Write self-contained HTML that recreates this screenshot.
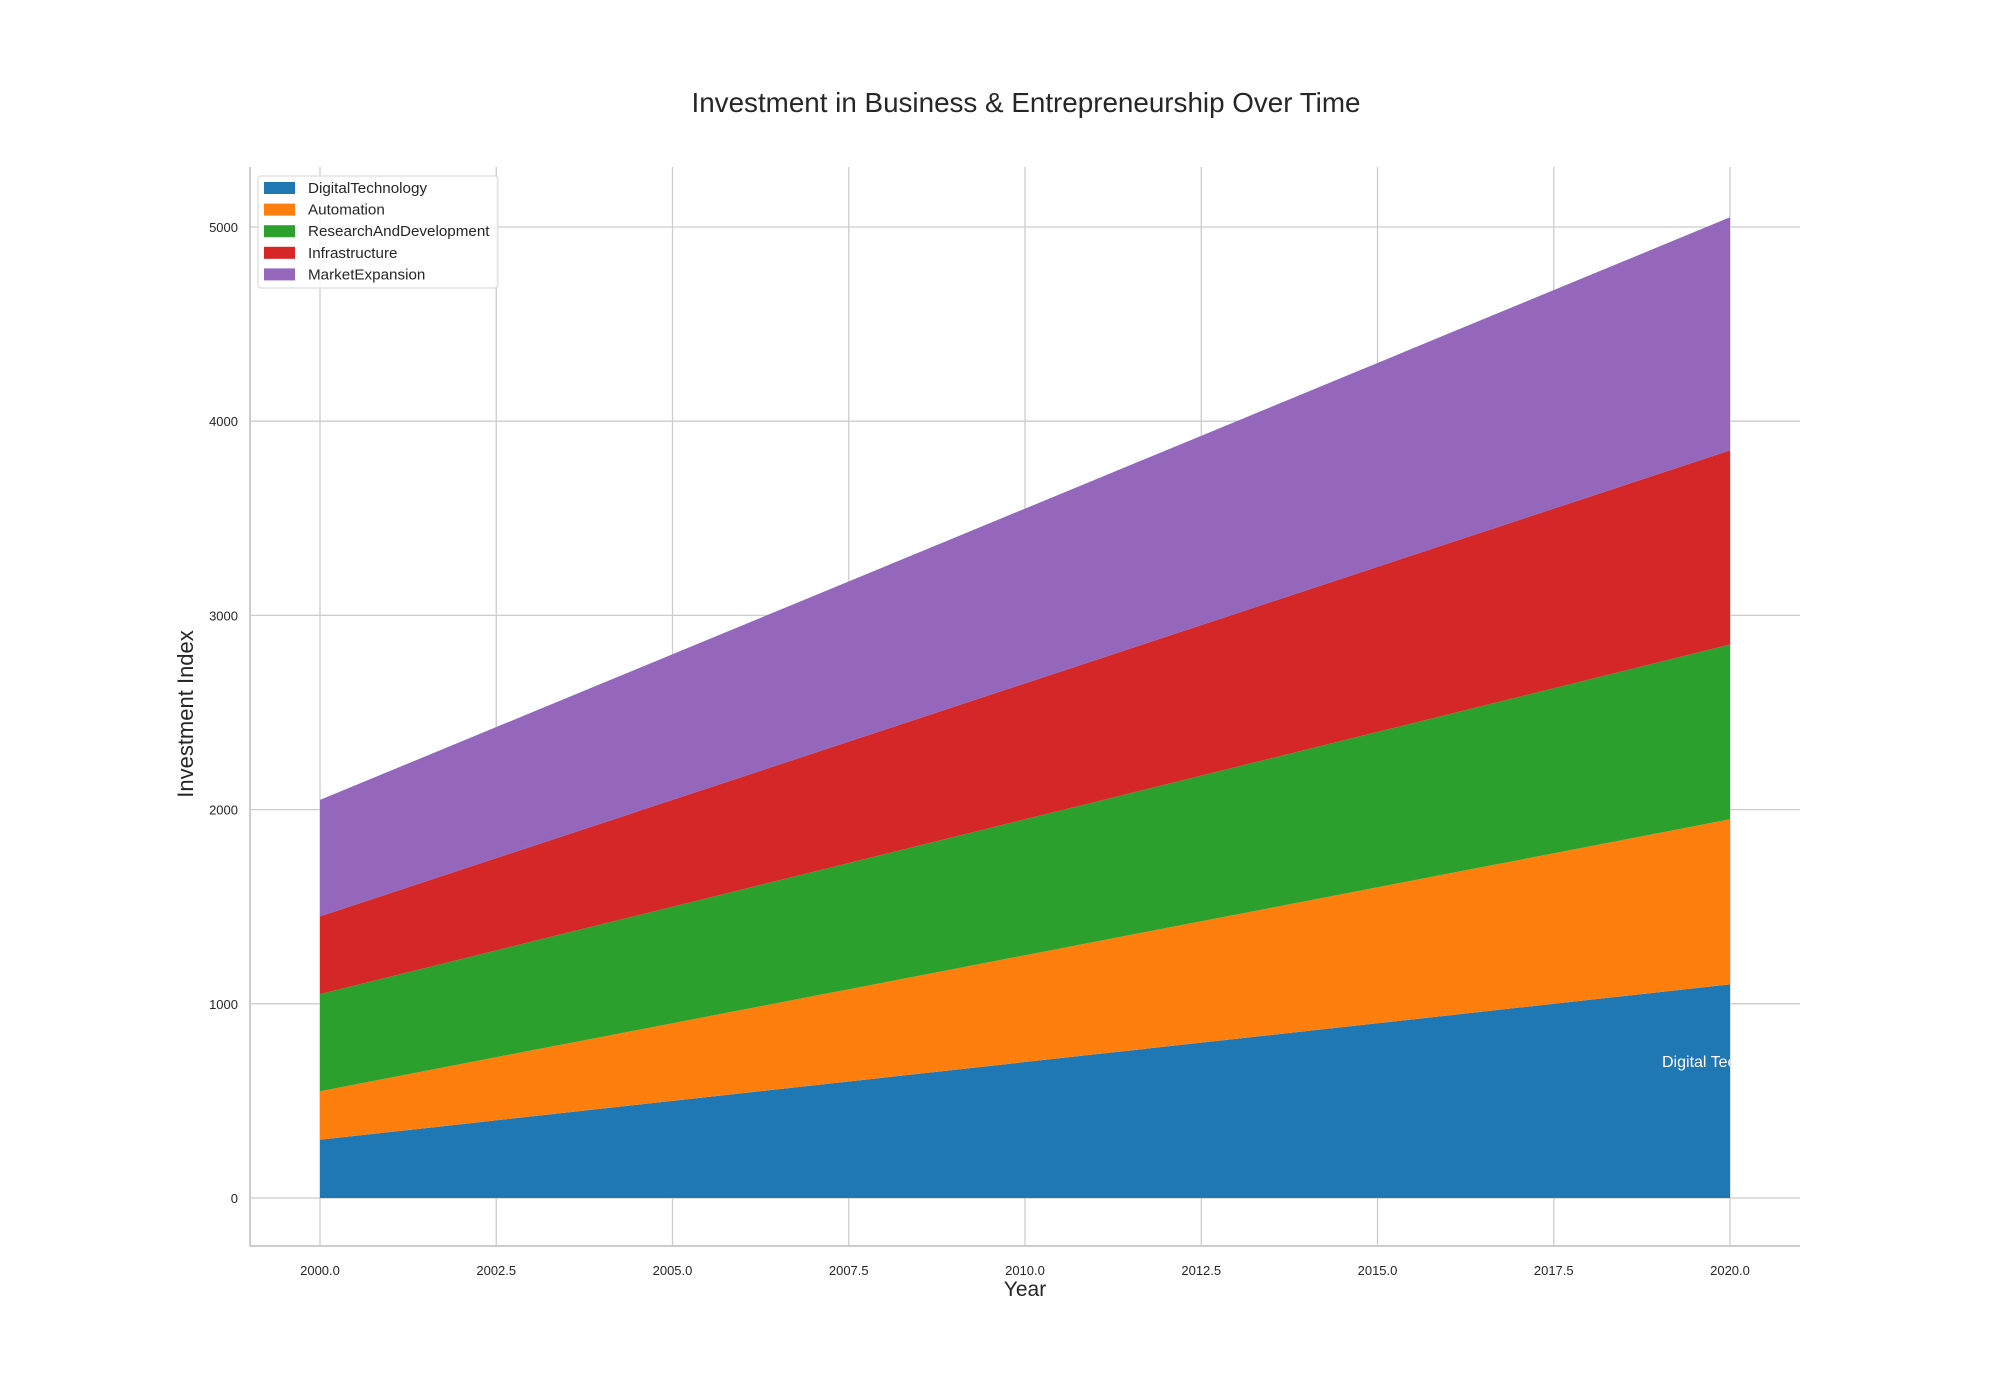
<!DOCTYPE html>
<html><head><meta charset="utf-8"><style>
body{margin:0;background:#fff;}
svg{display:block;font-family:"Liberation Sans",Arial,sans-serif;}
</style></head><body>
<svg id="chart" width="2000" height="1400" viewBox="0 0 2000 1400">
<rect width="2000" height="1400" fill="#fff"/>
<text x="1026" y="112" font-size="27.8" text-anchor="middle" fill="#262626">Investment in Business &amp; Entrepreneurship Over Time</text>
<g id="grid"></g>
<g id="areas"></g>
<g id="axes"></g>
<text x="1025" y="1296" font-size="21" text-anchor="middle" fill="#262626">Year</text>
<text transform="translate(193,714) rotate(-90)" font-size="22" text-anchor="middle" fill="#262626">Investment Index</text>
<g id="legend"></g>
</svg>
<script>
const years = [2000,2001,2002,2003,2004,2005,2006,2007,2008,2009,2010,2011,2012,2013,2014,2015,2016,2017,2018,2019,2020];
const seriesNames = ["DigitalTechnology","Automation","ResearchAndDevelopment","Infrastructure","MarketExpansion"];
const digitalTechnology = [300,340,380,420,460,500,540,580,620,660,700,740,780,820,860,900,940,980,1020,1060,1100];
const automation = [250,280,310,340,370,400,430,460,490,520,550,580,610,640,670,700,730,760,790,820,850];
const researchAndDevelopment = [500,520,540,560,580,600,620,640,660,680,700,720,740,760,780,800,820,840,860,880,900];
const infrastructure = [400,430,460,490,520,550,580,610,640,670,700,730,760,790,820,850,880,910,940,970,1000];
const marketExpansion = [600,630,660,690,720,750,780,810,840,870,900,930,960,990,1020,1050,1080,1110,1140,1170,1200];
const xTicks = [2000,2002.5,2005,2007.5,2010,2012.5,2015,2017.5,2020];
const yTicks = [0,1000,2000,3000,4000,5000];
const colors = ["#1f77b4","#ff7f0e","#2ca02c","#d62728","#9467bd"];

const NS="http://www.w3.org/2000/svg";
const L=250,R=1800,T=167,B=1246;
const x = v => 320 + (v-2000)*(1730-320)/20;
const y = v => 1198 - v*(1198-227)/5000;
function mk(tag,attrs,parent){const e=document.createElementNS(NS,tag);for(const k in attrs)e.setAttribute(k,attrs[k]);parent.appendChild(e);return e;}
const grid=document.getElementById('grid'),areas=document.getElementById('areas'),axes=document.getElementById('axes'),legend=document.getElementById('legend');

xTicks.forEach(t=>{
  const l=mk('line',{x1:x(t),x2:x(t),y1:T,y2:B,stroke:'#cccccc','stroke-width':1.3},grid);
  
  
  const tx=mk('text',{x:x(t),y:1275,'font-size':13,'text-anchor':'middle',fill:'#262626'},axes);
  tx.textContent=t.toFixed(1);
  
  
});
yTicks.forEach(t=>{
  const l=mk('line',{x1:L,x2:R,y1:y(t),y2:y(t),stroke:'#cccccc','stroke-width':1.3},grid);
  
  
  const tx=mk('text',{x:238,y:y(t)+5,'font-size':13,'text-anchor':'end',fill:'#262626'},axes);
  tx.textContent=String(t);
  
  
});
const sp1=mk('line',{x1:L,x2:L,y1:T,y2:B,stroke:'#cccccc','stroke-width':2},axes);


const sp2=mk('line',{x1:L,x2:R,y1:B,y2:B,stroke:'#cccccc','stroke-width':2},axes);



const series=[digitalTechnology,automation,researchAndDevelopment,infrastructure,marketExpansion];
let base=years.map(()=>0);
series.forEach((s,i)=>{
  const top=base.map((b,j)=>b+s[j]);
  let d='M'+years.map((yr,j)=>x(yr)+','+y(top[j])).join(' L');
  for(let j=years.length-1;j>=0;j--) d+=' L'+x(years[j])+','+y(base[j]);
  d+=' Z';
  const p=mk('path',{d:d,fill:colors[i]},areas);
  
  
  base=top;
});
const cp=mk('clipPath',{id:'clipA'},areas);
mk('rect',{x:L,y:T,width:x(2020)-L,height:B-T},cp);
const an=mk('text',{x:1662,y:1067,'font-size':16,fill:'#ffffff','clip-path':'url(#clipA)'},areas);
an.textContent='Digital Technology';



const box=mk('rect',{x:258,y:176,width:240,height:112,rx:3,fill:'#fff','fill-opacity':0.8,stroke:'#dddddd','stroke-width':1.3},legend);


seriesNames.forEach((n,i)=>{
  const cy=188+i*21.6;
  const g=mk('g',{},legend);
  
  
  mk('rect',{x:264,y:cy-6,width:31,height:12,fill:colors[i]},g);
  const t=mk('text',{x:308,y:cy+5,'font-size':15.2,fill:'#262626'},g);
  t.textContent=n;
});
</script>
</body></html>
